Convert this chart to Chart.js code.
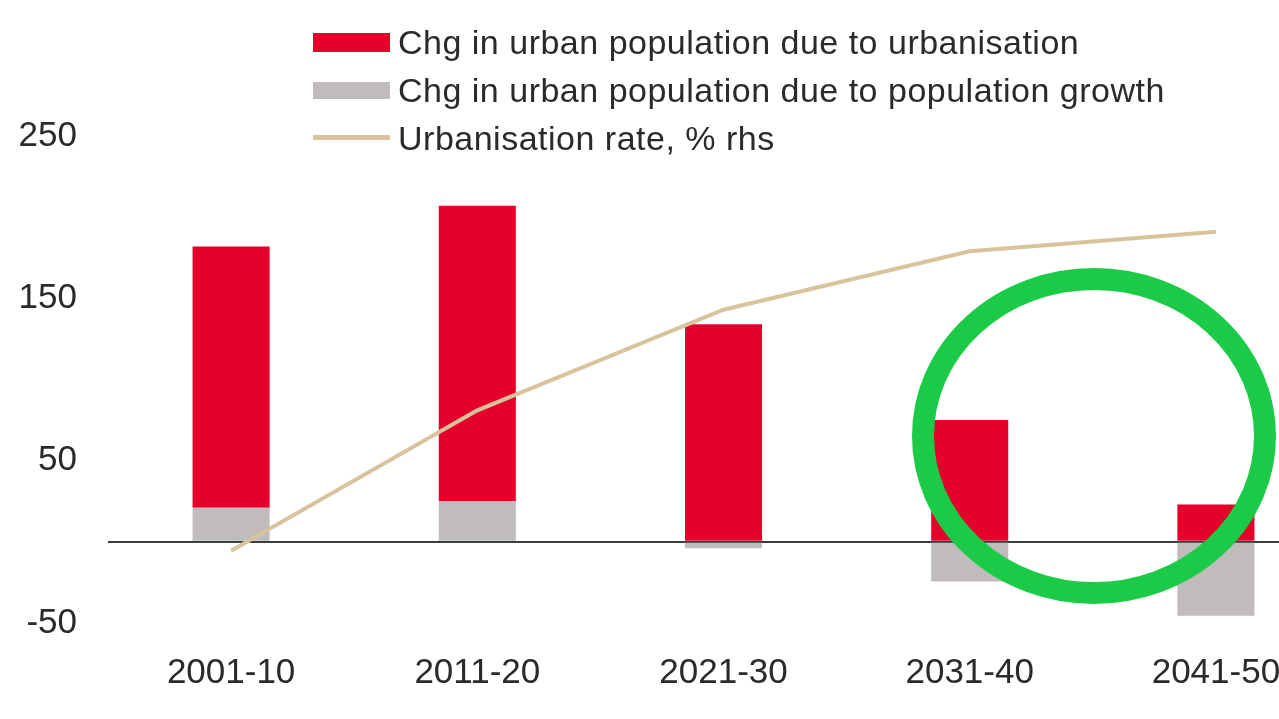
<!DOCTYPE html>
<html>
<head>
<meta charset="utf-8">
<script src="https://cdn.jsdelivr.net/npm/chart.js@4.4.1/dist/chart.umd.min.js"></script>
<style>
    html, body { margin: 0; padding: 0; background: #fff; overflow: hidden; }
    #wrap { position: relative; width: 1339px; height: 719px; }
    .legend { position: absolute; left: 313px; top: 0; font-family: "Liberation Sans", Arial, sans-serif; font-size: 34px; letter-spacing: 0.5px; color: #2a2a2a; }
    .legend .item { position: absolute; left: 0; white-space: nowrap; height: 40px; line-height: 40px; }
    .legend .sw { position: absolute; left: 0; width: 77px; }
    .legend .txt { position: absolute; left: 85px; top: 0; }
</style>
</head>
<body>
<div id="wrap">
    <canvas id="chart"></canvas>
    <div class="legend">
        <div class="item" style="top:22px"><span class="sw" style="top:11px;height:19px;background:#e4002b"></span><span class="txt">Chg in urban population due to urbanisation</span></div>
        <div class="item" style="top:70px"><span class="sw" style="top:12px;height:17px;background:#c0bcbc"></span><span class="txt">Chg in urban population due to population growth</span></div>
        <div class="item" style="top:118px"><span class="sw" style="top:17px;height:5px;background:#d8c49c"></span><span class="txt">Urbanisation rate, % rhs</span></div>
    </div>
</div>
<script>
const categories = ['2001-10', '2011-20', '2021-30', '2031-40', '2041-50'];
const dueToUrbanisation = [161, 182, 134, 75, 23];
const dueToPopGrowth = [21, 25, -4, -24.5, -45.5];
const urbanisationRate = [-5.5, 81, 143, 179, 191];
const yTicks = [250, 150, 50, -50];

// green highlight ring drawn over the last two periods
const ringPlugin = {
    id: 'ring',
    afterDraw(chart) {
        const ctx = chart.ctx;
        ctx.save();
        ctx.beginPath();
        ctx.ellipse(1094, 436, 171, 157, 0, 0, Math.PI * 2);
        ctx.strokeStyle = '#1bcb48';
        ctx.lineWidth = 22;
        ctx.stroke();
        ctx.restore();
    }
};

const tickFont = { family: '"Liberation Sans", Arial, sans-serif', size: 35 };

new Chart(document.getElementById('chart'), {
    type: 'bar',
    data: {
        labels: categories,
        datasets: [
            {
                label: 'Chg in urban population due to population growth',
                data: dueToPopGrowth,
                backgroundColor: '#c0bcbc',
                stack: 's',
                order: 2
            },
            {
                label: 'Chg in urban population due to urbanisation',
                data: dueToUrbanisation,
                backgroundColor: '#e4002b',
                stack: 's',
                order: 2
            },
            {
                type: 'line',
                label: 'Urbanisation rate, % rhs',
                data: urbanisationRate,
                borderColor: '#d8c49c',
                borderWidth: 4,
                pointRadius: 0,
                tension: 0,
                yAxisID: 'y2',
                order: 1
            }
        ]
    },
    options: {
        responsive: true,
        maintainAspectRatio: false,
        animation: false,
        layout: { padding: { top: 136, left: 0, right: 0, bottom: 0 } },
        datasets: { bar: { categoryPercentage: 1, barPercentage: 0.313 } },
        plugins: {
            legend: { display: false },
            tooltip: { enabled: false }
        },
        scales: {
            x: {
                stacked: true,
                grid: { display: false },
                border: { display: false },
                ticks: { color: '#2a2a2a', font: tickFont, padding: 21, maxRotation: 0 },
                afterFit: (s) => { s.height = 96; }
            },
            y: {
                stacked: true,
                min: -50,
                max: 250,
                border: { display: false },
                grid: {
                    color: (c) => c.tick && c.tick.value === 0 ? '#3c3c3c' : 'transparent',
                    lineWidth: 2,
                    drawTicks: false
                },
                afterBuildTicks: (s) => {
                    s.ticks = [...yTicks, 0].map(v => ({ value: v }));
                },
                ticks: {
                    color: '#2a2a2a',
                    font: tickFont,
                    padding: 31,
                    callback: (v) => yTicks.includes(v) ? v : ''
                },
                afterFit: (s) => { s.width = 108; }
            },
            y2: {
                display: false,
                min: -50,
                max: 250
            }
        }
    },
    plugins: [ringPlugin]
});
</script>
</body>
</html>
